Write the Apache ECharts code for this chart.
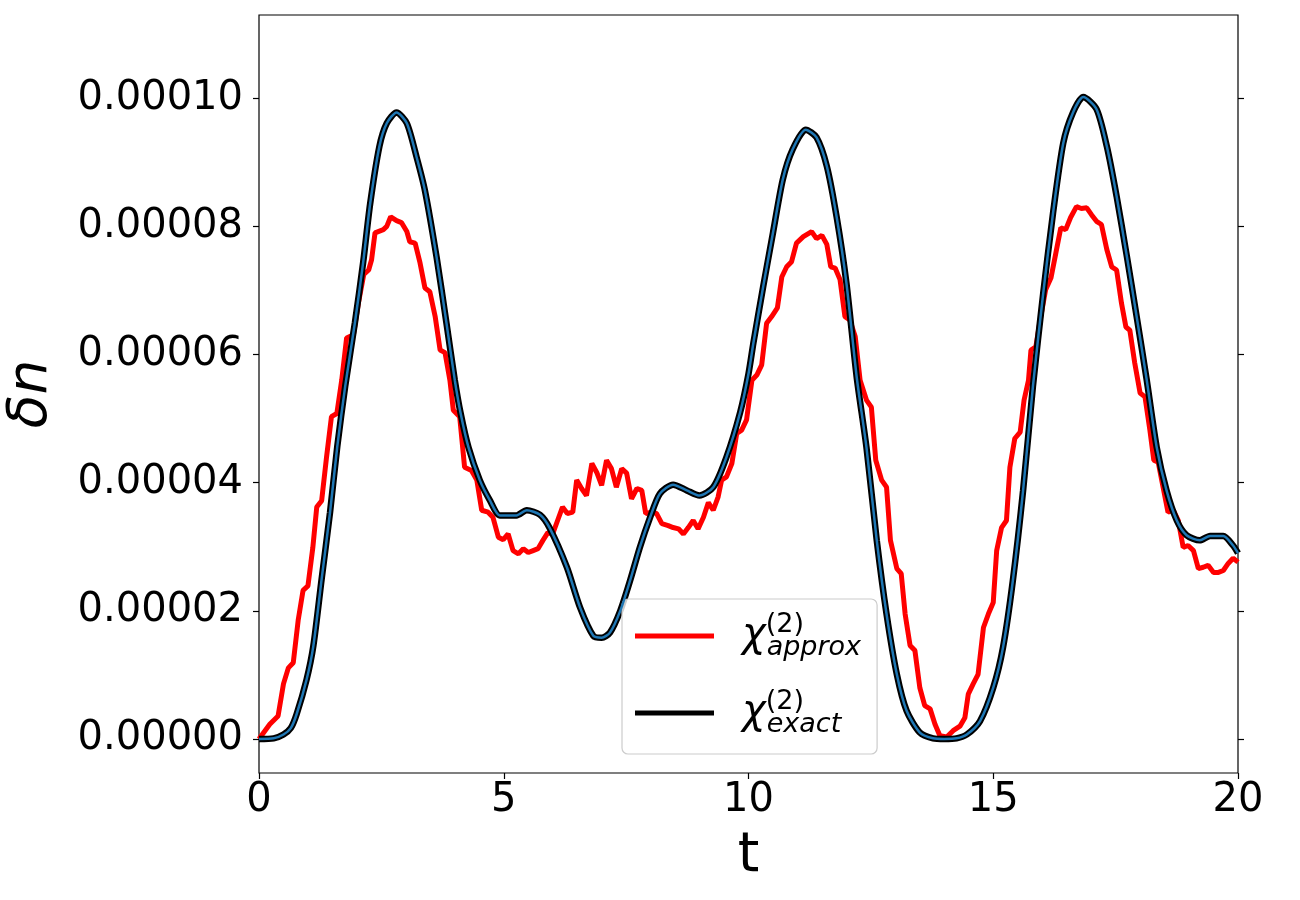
<!DOCTYPE html>
<html>
<head>
<meta charset="utf-8">
<script src="https://cdn.jsdelivr.net/npm/echarts@6/dist/echarts.min.js"></script>
<style>html,body{margin:0;padding:0;background:#fff}#c{width:1300px;height:900px}</style>
</head>
<body>
<div id="c"></div>
<script>
// values of delta n are in units of 1e-5
const tExact = [0,0.3,0.5,0.65,0.77,0.97,1.11,1.28,1.45,1.6,1.76,1.96,2.13,2.27,2.46,2.61,2.81,3.02,3.22,3.39,3.63,3.83,4.0,4.12,4.28,4.51,4.72,4.92,5.26,5.47,5.74,5.94,6.29,6.56,6.83,7.0,7.17,7.38,7.58,7.78,7.99,8.19,8.46,8.74,9.0,9.28,9.55,9.83,10.0,10.1,10.3,10.5,10.7,10.9,11.17,11.39,11.6,11.8,12.0,12.21,12.41,12.62,12.82,13.03,13.23,13.5,13.77,14.0,14.25,14.46,14.73,15.0,15.2,15.4,15.61,15.81,16.02,16.22,16.43,16.63,16.84,17.11,17.32,17.52,17.73,17.93,18.13,18.34,18.54,18.75,18.95,19.22,19.43,19.7,19.9,20];
const exactE5 = [0,0.01,0.07,0.17,0.39,0.92,1.45,2.5,3.53,4.57,5.5,6.5,7.45,8.35,9.25,9.61,9.78,9.61,9.08,8.56,7.51,6.49,5.6,5.08,4.55,4.04,3.72,3.49,3.49,3.57,3.5,3.29,2.68,2.05,1.61,1.58,1.66,2.0,2.47,2.99,3.46,3.83,3.97,3.88,3.8,3.93,4.4,5.1,5.7,6.18,7.06,7.9,8.73,9.2,9.51,9.39,8.94,8.15,7.12,5.65,4.55,3.1,1.95,1.01,0.44,0.1,0.01,0,0.01,0.07,0.28,0.8,1.43,2.47,3.88,5.5,6.95,8.2,9.3,9.78,10.02,9.83,9.25,8.47,7.53,6.59,5.63,4.55,3.88,3.41,3.18,3.1,3.17,3.17,3.02,2.9];

const tApprox = [0,0.22,0.39,0.5,0.6,0.7,0.8,0.9,1.0,1.1,1.18,1.28,1.38,1.48,1.59,1.69,1.79,1.93,2.03,2.14,2.24,2.3,2.37,2.54,2.61,2.69,2.81,2.91,3.02,3.08,3.19,3.29,3.39,3.49,3.6,3.7,3.8,3.9,3.97,4.1,4.2,4.34,4.45,4.55,4.68,4.78,4.89,4.99,5.09,5.19,5.3,5.4,5.5,5.6,5.7,5.8,5.9,6.0,6.1,6.2,6.3,6.41,6.49,6.59,6.69,6.8,6.9,7.0,7.1,7.2,7.3,7.41,7.51,7.61,7.72,7.82,7.9,8.02,8.12,8.23,8.36,8.46,8.57,8.67,8.77,8.87,8.97,9.08,9.18,9.28,9.38,9.45,9.55,9.66,9.76,9.86,9.96,10.07,10.17,10.27,10.37,10.47,10.59,10.68,10.78,10.88,10.98,11.12,11.29,11.39,11.5,11.6,11.68,11.77,11.87,11.97,12.07,12.18,12.28,12.41,12.51,12.6,12.72,12.82,12.9,13.03,13.12,13.2,13.3,13.4,13.5,13.6,13.71,13.81,13.91,14.05,14.18,14.32,14.42,14.49,14.59,14.69,14.8,14.9,15.0,15.07,15.17,15.27,15.34,15.44,15.55,15.63,15.72,15.77,15.87,15.97,16.07,16.18,16.28,16.38,16.48,16.58,16.7,16.8,16.91,17.01,17.11,17.21,17.32,17.42,17.52,17.62,17.71,17.79,17.89,18.0,18.1,18.2,18.28,18.37,18.47,18.57,18.68,18.78,18.88,18.98,19.09,19.19,19.29,19.39,19.5,19.6,19.7,19.8,19.9,20.0];
const approxE5 = [0,0.23,0.36,0.86,1.11,1.19,1.85,2.32,2.39,2.99,3.62,3.72,4.4,5.03,5.08,5.6,6.26,6.31,6.8,7.25,7.32,7.48,7.9,7.95,8.0,8.15,8.09,8.06,7.92,7.76,7.74,7.43,7.04,6.98,6.59,6.07,6.03,5.6,5.13,5.03,4.24,4.19,4.04,3.57,3.54,3.46,3.15,3.11,3.2,2.94,2.89,2.97,2.91,2.94,2.97,3.1,3.22,3.2,3.41,3.62,3.52,3.54,4.04,3.91,3.8,4.3,4.16,3.96,4.35,4.22,3.93,4.22,4.15,3.75,3.91,3.88,3.52,3.54,3.52,3.36,3.33,3.3,3.28,3.2,3.3,3.41,3.28,3.46,3.69,3.57,3.78,4.04,4.09,4.3,4.77,4.82,4.98,5.6,5.68,5.84,6.49,6.59,6.73,7.21,7.37,7.45,7.74,7.84,7.92,7.81,7.86,7.72,7.37,7.35,7.17,6.59,6.54,6.28,5.6,5.29,5.18,4.35,4.04,3.93,3.1,2.66,2.58,1.95,1.46,1.38,0.8,0.52,0.47,0.23,0.05,0.03,0.13,0.2,0.33,0.7,0.86,1.01,1.74,1.95,2.13,2.94,3.3,3.41,4.24,4.69,4.79,5.29,5.6,6.07,6.12,6.59,7.01,7.2,7.59,7.98,7.95,8.14,8.31,8.28,8.29,8.18,8.08,8.03,7.64,7.37,7.32,6.8,6.43,6.38,5.87,5.4,5.34,4.82,4.35,4.32,3.93,3.54,3.57,3.41,2.99,3.02,2.94,2.66,2.68,2.71,2.6,2.6,2.63,2.74,2.82,2.76];

const yTicks = [0, 0.00002, 0.00004, 0.00006, 0.00008, 0.0001];
const xTicks = [0, 5, 10, 15, 20];
const legendNames = ['approx', 'exact'];

const toPairs = (ts, vs) => ts.map((t, i) => [t, vs[i] * 1e-5]);
const exactData = toPairs(tExact, exactE5);
const approxData = toPairs(tApprox, approxE5);

const FONT = 'DejaVu Sans';
const YMIN = -5.31e-6, YMAX = 1.130e-4;

const chart = echarts.init(document.getElementById('c'), null, {renderer: 'canvas'});
chart.setOption({
  backgroundColor: '#fff',
  animation: false,
  grid: {left: 259, right: 62, top: 15, bottom: 127, containLabel: false, outerBoundsMode: 'none',
         show: true, borderColor: '#000', borderWidth: 1.2, backgroundColor: 'transparent'},
  xAxis: {
    type: 'value', min: 0, max: 20, interval: 5,
    axisLine: {show: false, onZero: false},
    axisTick: {show: true, length: 6, customValues: xTicks, lineStyle: {color: '#000', width: 1.2}},
    axisLabel: {color: '#000', fontSize: 40, fontFamily: FONT, margin: 8, customValues: xTicks, formatter: v => String(v)},
    splitLine: {show: false},
    name: 't', nameLocation: 'middle', nameGap: 56,
    nameTextStyle: {color: '#000', fontSize: 55, fontFamily: FONT}
  },
  yAxis: [{
    type: 'value', min: YMIN, max: YMAX,
    axisLine: {show: false, onZero: false},
    axisTick: {show: true, length: 6, customValues: yTicks, lineStyle: {color: '#000', width: 1.2}},
    axisLabel: {color: '#000', fontSize: 40, fontFamily: FONT, margin: 16, customValues: yTicks, formatter: v => v.toFixed(5)},
    splitLine: {show: false},
    name: 'δn', nameLocation: 'middle', nameGap: 200, nameRotate: 90,
    nameTextStyle: {color: '#000', fontSize: 55, fontFamily: FONT, fontStyle: 'italic'}
  }, {
    type: 'value', min: YMIN, max: YMAX, position: 'right',
    axisLine: {show: false, onZero: false},
    axisTick: {show: true, length: 6, customValues: yTicks, lineStyle: {color: '#000', width: 1.2}},
    axisLabel: {show: false, customValues: yTicks},
    splitLine: {show: false}
  }],
  legend: {
    data: legendNames,
    orient: 'vertical',
    left: 622, top: 599,
    padding: [12, 16, 16, 13],
    itemGap: 27,
    itemWidth: 79, itemHeight: 5,
    icon: 'rect',
    backgroundColor: 'rgba(255,255,255,0.8)',
    borderColor: '#cccccc', borderWidth: 1.2, borderRadius: 6,
    selectedMode: false,
    formatter: n => '{chi|χ}{sup|(2)}{sub|' + n + '}',
    textStyle: {
      color: '#000', fontFamily: FONT,
      rich: {
        chi: {fontSize: 40, fontStyle: 'italic', fontFamily: FONT, color: '#000', lineHeight: 50, padding: [0, 0, 0, 23], verticalAlign: 'middle'},
        sup: {fontSize: 27, fontFamily: FONT, color: '#000', width: 1, lineHeight: 27, verticalAlign: 'top'},
        sub: {fontSize: 27, fontStyle: 'italic', fontFamily: FONT, color: '#000', lineHeight: 27, verticalAlign: 'bottom'}
      }
    }
  },
  series: [
    {name: 'approx', type: 'line', data: approxData, showSymbol: false, symbol: 'none',
     lineStyle: {color: '#ff0000', width: 5}, itemStyle: {color: '#ff0000'}, z: 2},
    {name: 'exact', type: 'line', data: exactData, showSymbol: false, symbol: 'none', smooth: 0.25,
     lineStyle: {color: '#000000', width: 6.5}, itemStyle: {color: '#000000'}, z: 3},
    {name: 'exact_inner', type: 'line', data: exactData, showSymbol: false, symbol: 'none', smooth: 0.25,
     lineStyle: {color: '#1f77b4', width: 2.5}, itemStyle: {color: '#1f77b4'}, z: 4}
  ]
});
</script>
</body>
</html>
